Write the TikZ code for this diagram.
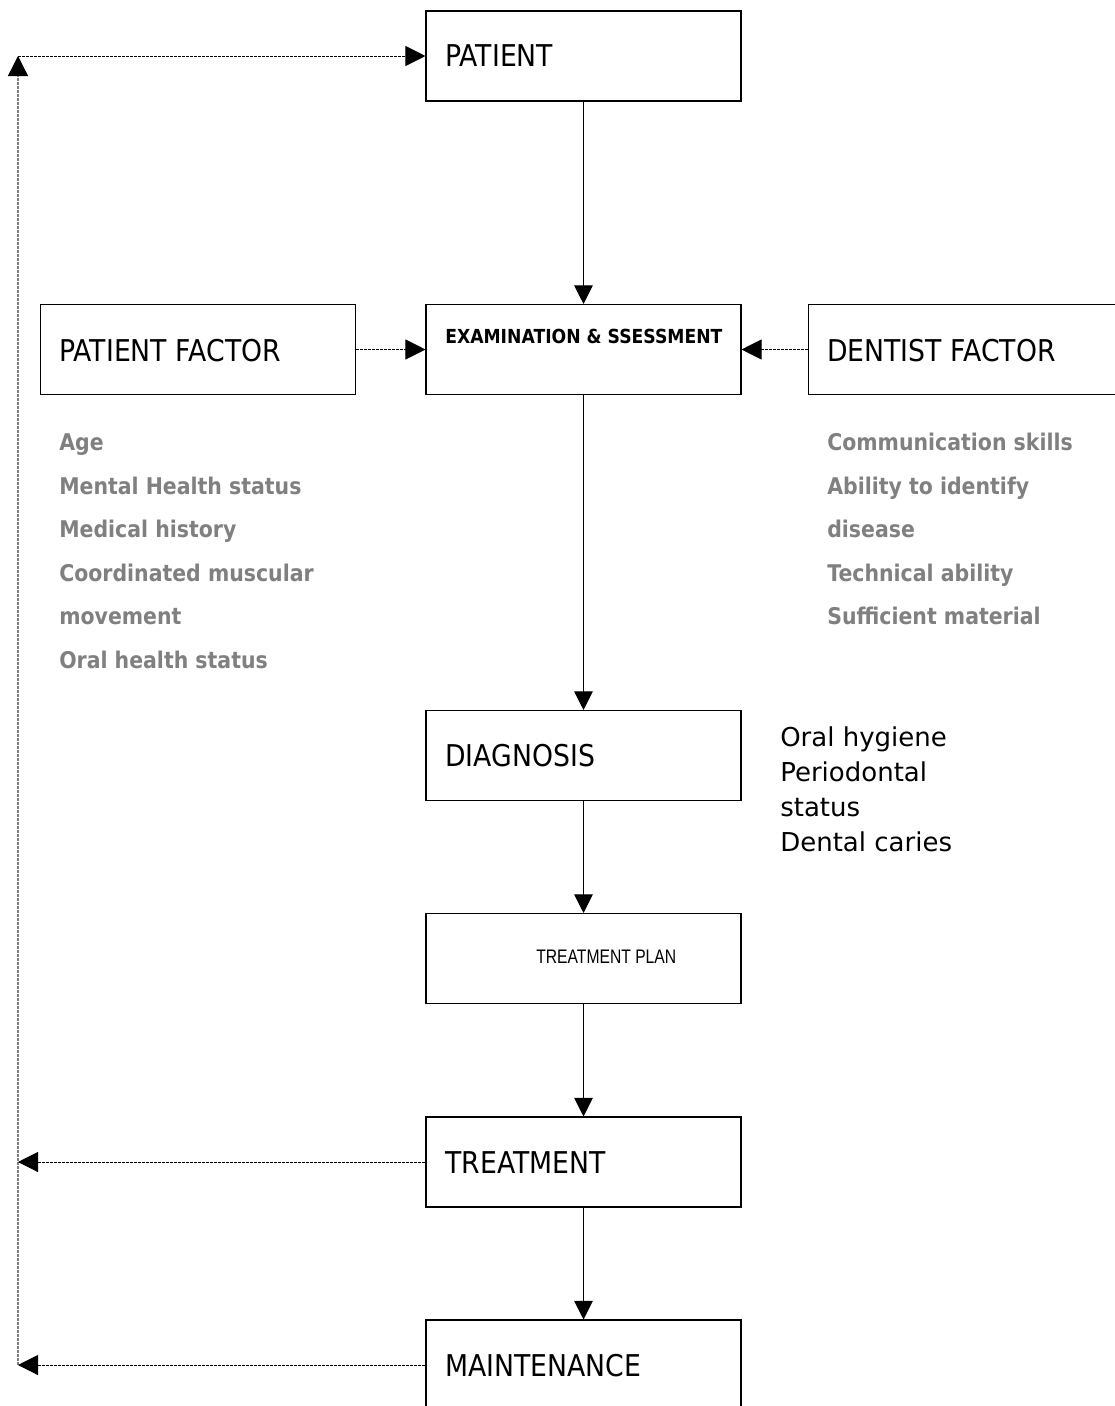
\documentclass[tikz,border=0pt]{standalone}
\usepackage{fontspec}
\setmainfont{DejaVu Sans}[FakeStretch=0.89]
\newfontfamily\notefont{DejaVu Sans}
\newfontfamily\narrowfont{Liberation Sans}[FakeStretch=0.8]
\usetikzlibrary{arrows.meta}
\definecolor{txtgrey}{HTML}{808080}
\tikzset{
  box/.style={draw=black, line width=0.8pt, minimum width=236.25pt, minimum height=67.5pt, inner sep=0pt},
  flow/.style={draw=black, line width=0.75pt, -{Triangle[length=14pt,width=14pt]}},
  dotarrow/.style={draw=black, line width=0.75pt, dash pattern=on 2.25pt off 0.75pt, -{Triangle[length=15pt,width=15pt]}},
  dotline/.style={draw=txtgrey, line width=1pt, dash pattern=on 2.25pt off 0.75pt},
  boxtext/.style={anchor=base west, inner sep=0pt, font=\fontsize{22.5}{27}\selectfont},
  greytext/.style={anchor=base west, inner sep=0pt, text=txtgrey, font=\bfseries\fontsize{17.25}{20}\selectfont},
  notetext/.style={anchor=base west, inner sep=0pt, font=\notefont\fontsize{19.5}{23}\selectfont},
}
\begin{document}
\begin{tikzpicture}[x=0.75pt, y=-0.75pt]
\useasboundingbox (0,0) rectangle (1114,1406);

% boxes
\node[box] (patient) at (583.5,56) {};
\node[box] (exam) at (583.5,349.5) {};
\node[box] (pfactor) at (198,349.5) {};
\node[box] (dfactor) at (966,349.5) {};
\node[box] (diag) at (583.5,755.5) {};
\node[box] (plan) at (583.5,958.5) {};
\node[box] (treat) at (583.5,1162) {};
\node[box] (maint) at (583.5,1365) {};

% box texts
\node[boxtext] (tpatient) at (445,66) {PATIENT};
\node[anchor=base west, inner sep=0pt, font=\bfseries\fontsize{14.5}{18}\selectfont] (texam) at (445,343) {EXAMINATION \& SSESSMENT};
\node[boxtext] (tpfactor) at (59,361) {PATIENT FACTOR};
\node[boxtext] (tdfactor) at (827,361) {DENTIST FACTOR};
\node[boxtext] (tdiag) at (445,766) {DIAGNOSIS};
\node[anchor=base west, inner sep=0pt, font=\narrowfont\fontsize{14.7}{18}\selectfont] (tplan) at (536,963) {TREATMENT PLAN};
\node[boxtext] (ttreat) at (445,1173) {TREATMENT};
\node[boxtext] (tmaint) at (445,1376) {MAINTENANCE};

% patient factor list
\node[greytext] (p1) at (59,450) {Age};
\node[greytext] (p2) at (59,494) {Mental Health status};
\node[greytext] (p3) at (59,537) {Medical history};
\node[greytext] (p4) at (59,581) {Coordinated muscular};
\node[greytext] (p5) at (59,624) {movement};
\node[greytext] (p6) at (59,668) {Oral health status};

% dentist factor list
\node[greytext] (d1) at (827,450) {Communication skills};
\node[greytext] (d2) at (827,494) {Ability to identify};
\node[greytext] (d3) at (827,537) {disease};
\node[greytext] (d4) at (827,581) {Technical ability};
\node[greytext] (d5) at (827,624) {Sufficient material};

% diagnosis notes
\node[notetext] (n1) at (780,746) {Oral hygiene};
\node[notetext] (n2) at (780,781) {Periodontal};
\node[notetext] (n3) at (780,816) {status};
\node[notetext] (n4) at (780,851) {Dental caries};

% main flow
\draw[flow] (patient.south) -- (exam.north);
\draw[flow] (exam.south) -- (diag.north);
\draw[flow] (diag.south) -- (plan.north);
\draw[flow] (plan.south) -- (treat.north);
\draw[flow] (treat.south) -- (maint.north);

% factor arrows
\draw[dotarrow] (pfactor.east) -- (exam.west);
\draw[dotarrow] (dfactor.west) -- (exam.east);

% feedback loop
\coordinate (tl) at (18,56);
\coordinate (bl) at (18,1365);
\draw[dotline, -{Triangle[length=15pt,width=15pt,color=black,fill=black]}] (bl) -- (tl);
\draw[dotarrow] (tl) -- (patient.west);
\draw[dotarrow] (treat.west) -- (treat.west -| tl);
\draw[dotarrow] (maint.west) -- (maint.west -| tl);
\end{tikzpicture}
\end{document}
